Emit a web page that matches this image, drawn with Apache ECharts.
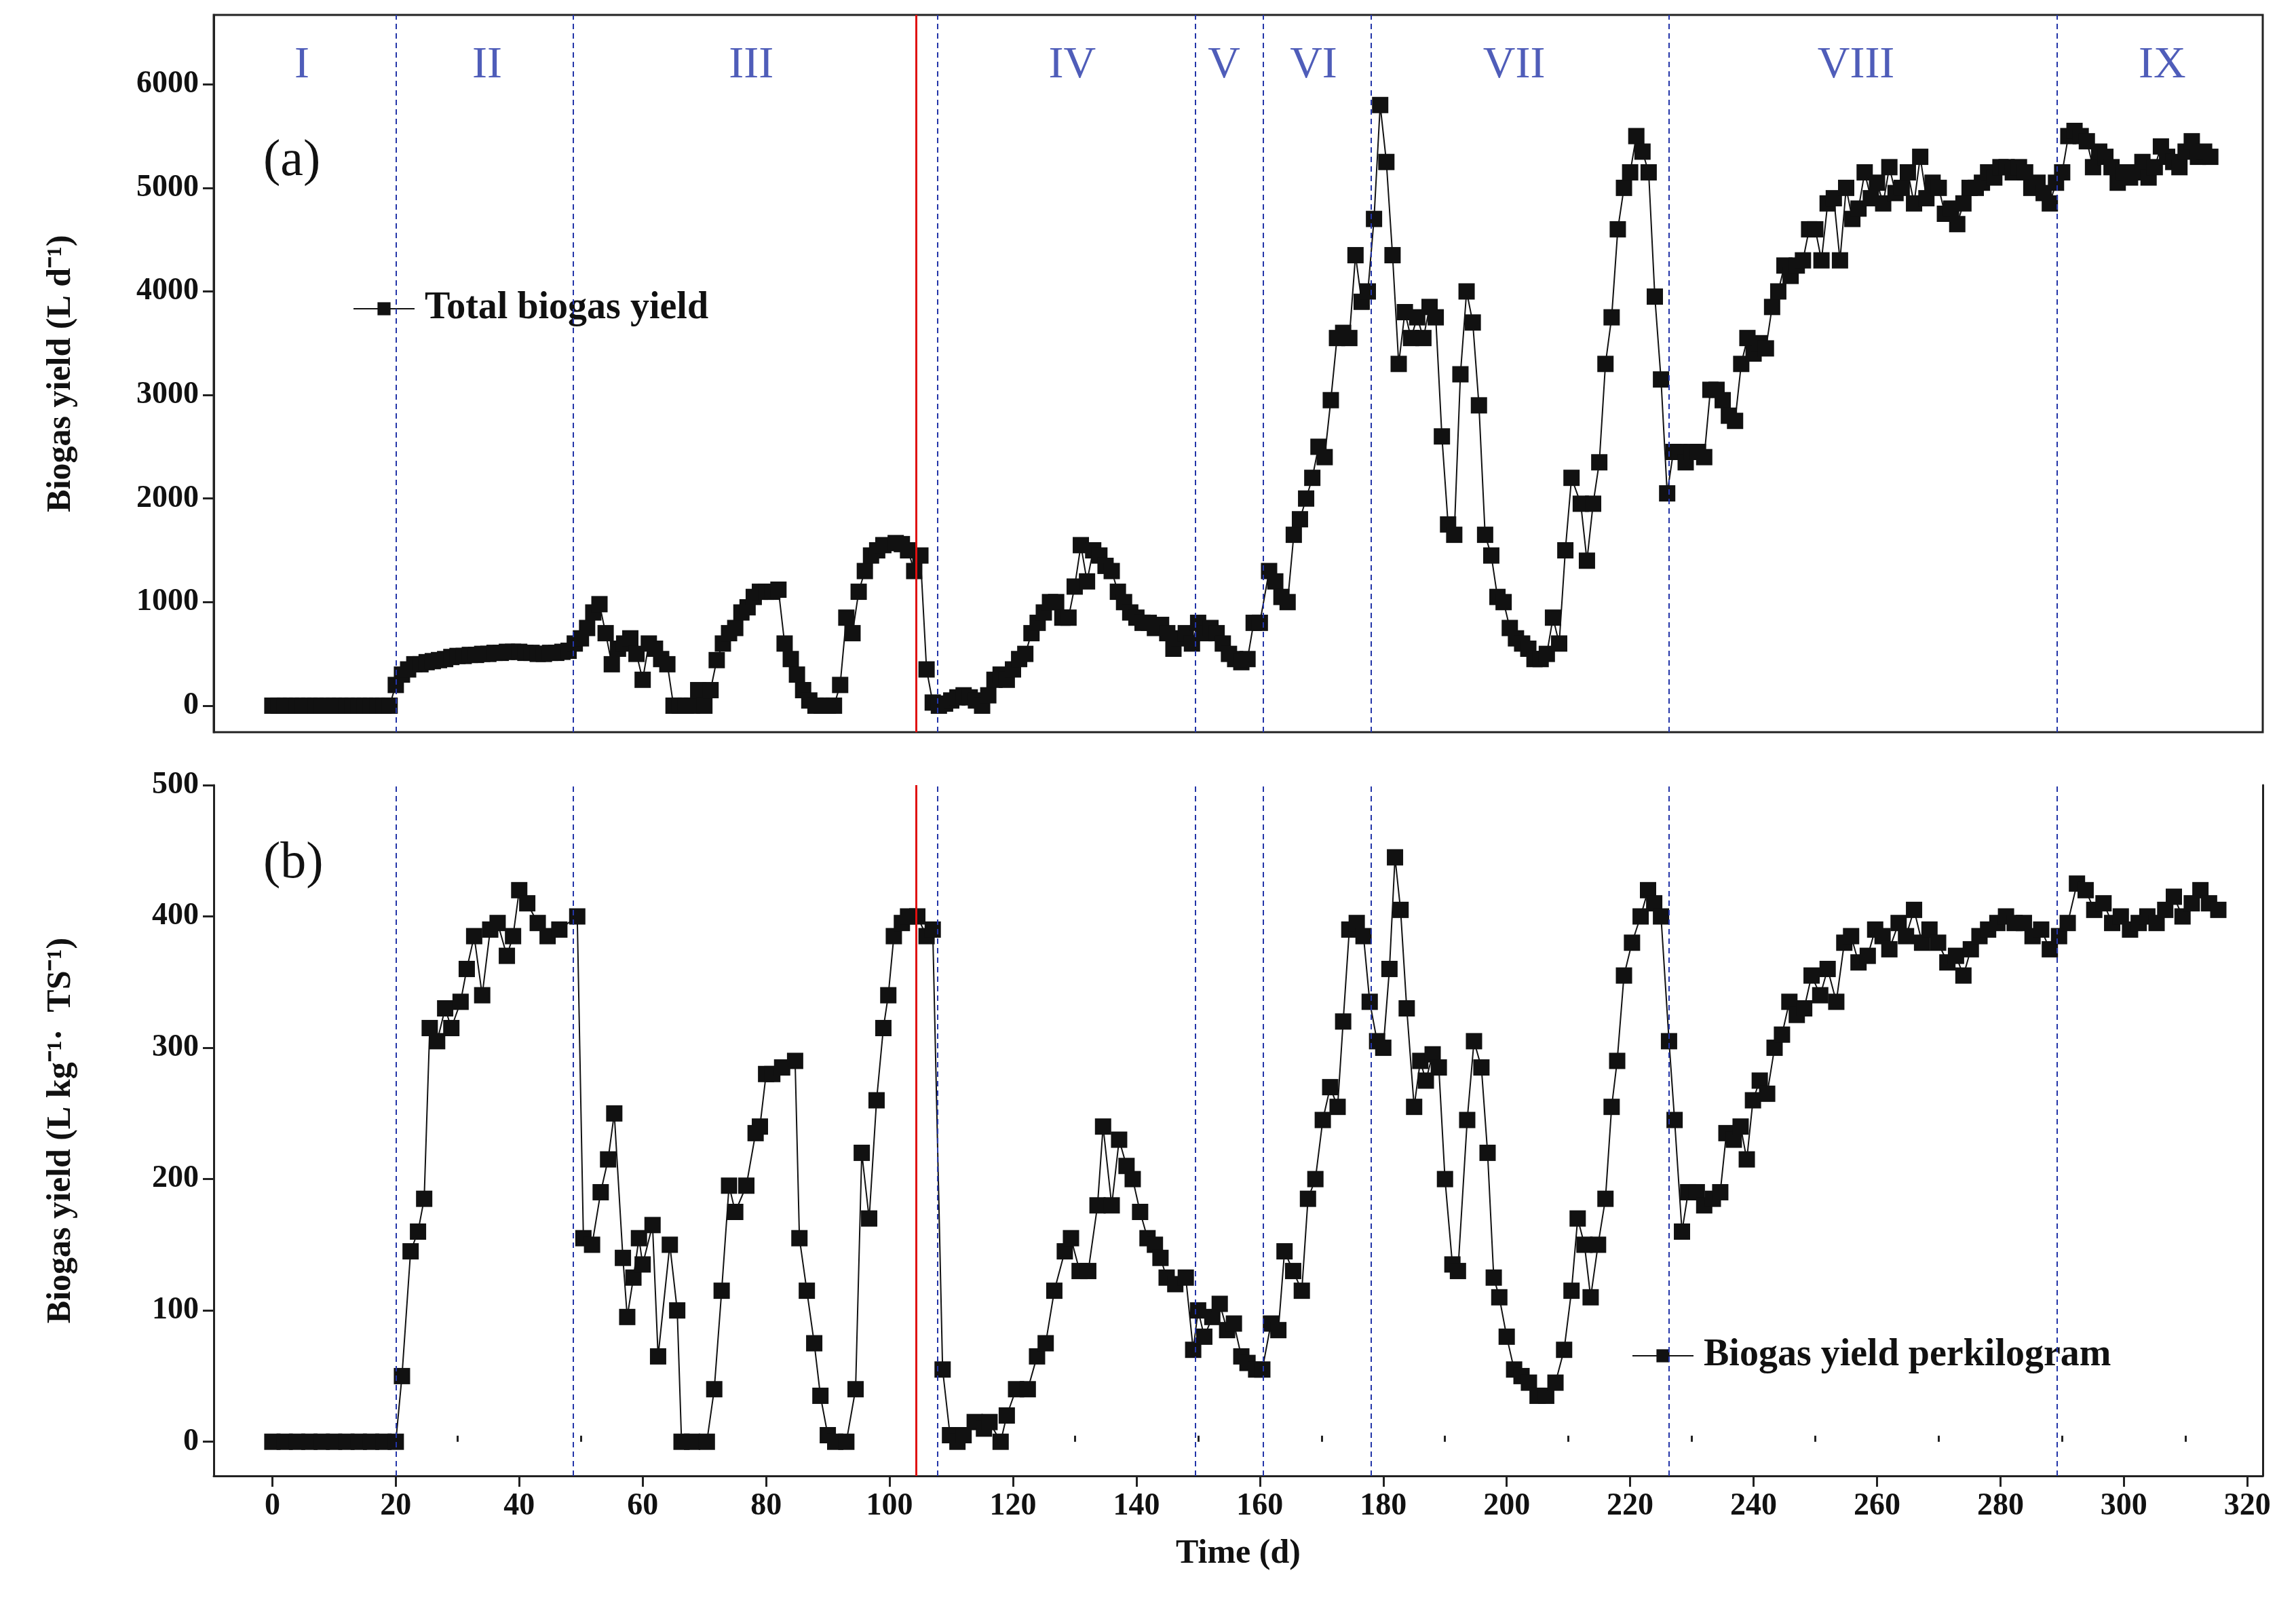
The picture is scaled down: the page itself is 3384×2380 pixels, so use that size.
<!DOCTYPE html>
<html>
<head>
<meta charset="utf-8">
<script src="https://cdn.jsdelivr.net/npm/echarts@6/dist/echarts.min.js"></script>
<style>html,body{margin:0;background:#fff}#main{width:3384px;height:2380px}</style>
</head>
<body>
<div id="main"></div>
<script>
// 阶段标记
const phaseNames = ['I', 'II', 'III', 'IV', 'V', 'VI', 'VII', 'VIII', 'IX'];
const phaseCenters = [4.8, 34.8, 77.6, 129.6, 154.2, 168.7, 201.2, 256.6, 306.2];
const phaseBounds = [20, 48.7, 107.8, 149.5, 160.5, 178, 226.3, 289.2];
const redLine = 104.3;
const xTicks = [0, 20, 40, 60, 80, 100, 120, 140, 160, 180, 200, 220, 240, 260, 280, 300, 320];
const xMinorTicks = [-10, 10, 30, 50, 70, 90, 110, 130, 150, 170, 190, 210, 230, 250, 270, 290, 310];
const yTicksA = [0, 1000, 2000, 3000, 4000, 5000, 6000];
const yTicksB = [0, 100, 200, 300, 400, 500];

// (a) 总产气量，按段给出：起始天 + 逐日数值
const aSeg1Start = 0;
const aSeg1 = [0,0,0,0,0,0,0,0,0,0,0,0,0,0,0,0,0,0,0,0,
  200,300,350,400,400,420,430,440,450,470,480,480,490,490,500,500,510,510,520,520,
  520,510,510,500,500,510,510,520,530,600,650,750,900,980,700,400,550,600,650,500,
  250,600,550,450,400,0,0,0,0,150,0,150,440,600,700,750,900,950,1050,1100,
  1100,1100,1120,600,450,300,150,50,0,0,0,0,200,850,700,1100,1300,1450,1500,1550];
const aSeg2Start = 101;
const aSeg2 = [1570,1560,1500,1300,1450,350,30,0,20,50,80,100,80,50,0,100,250,300,250,350,
  450,500,700,800,900,1000,1000,850,850,1150,1550,1200,1500,1450,1350,1300,1100,1000,900,850,
  800,800,750,780,700,550,650,700,600,800,700,750,700,600,500,450,420,450,800,800];
const aSeg3Start = 161.5;
const aSeg3 = [1300,1200,1050,1000,1650,1800,2000,2200,2500,2400,2950,3550,3600,3550,4350,3900,4000,4700,5800,5250,
  4350,3300,3800,3550,3750,3550,3850,3750,2600,1750,1650,3200,4000,3700,2900,1650,1450,1050,1000,750,
  650,600,550,450,450,500,850,600,1500,2200];
const aSeg4Start = 212;
const aSeg4 = [1950,1400,1950,2350,3300,3750,4600,5000,5150,5500,5350,5150,3950,3150,2050,2450,2450,2350,2450,2450,
  2400,3050,3050,2950,2800,2750,3300,3550,3400,3500,3450,3850,4000,4250,4150,4250,4300,4600,4600,4300,
  4850,4900,4300,5000,4700,4800,5150,4900,5050,4850];
const aSeg5Start = 262;
const aSeg5 = [5200,4950,5000,5150,4850,5300,4900,5050,5000,4750,4800,4650,4850,5000,5000,5050,5150,5100,5200,5200,
  5150,5200,5150,5000,5050,4950,4850,5050,5150,5500,5550,5500,5450,5200,5350,5300,5200,5050,5150,5100,
  5150,5250,5100,5200,5400,5300,5250,5200,5350,5450,5300,5350,5300];

// (b) 单位产气量
const bDays = [0,2,4,6,8,10,12,14,16,18,20,21,22.4,23.6,24.6,25.5,26.7,28,29,30.5,31.5,32.7,34,35.3,36.5,38,39,40,41.3,43,44.6,46.5,49.4,
  50.4,51.8,53.2,54.4,55.4,56.8,57.5,58.5,59.4,60,61.6,62.5,64.4,65.6,66.3,68,70.4,71.6,72.8,74,75,76.8,78.3,79,80,81,82.6,84.7,
  85.4,86.6,87.8,88.8,90,91.2,93,94.5,95.5,96.7,97.9,99,99.8,100.7,102,103,104.5,106,107,108.6,109.8,111,112,113.8,115.3,116.2,
  118,119,120.5,122.4,123.9,125.3,126.7,128.4,129.4,130.8,132.2,133.7,134.6,136,137.2,138.4,139.4,140.6,141.8,143,143.9,144.9,146.3,
  148,149.2,150,151,152.3,153.5,154.7,155.8,157,158,159.4,160.4,161.8,163,164,165.4,166.8,167.8,169,170.2,171.4,172.6,173.5,174.5,
  175.7,176.8,177.8,179,180,181,181.9,182.8,183.8,185,186,186.9,188,189,190,191.2,192.1,193.6,194.7,195.9,196.9,197.9,198.8,200,
  201.2,202.4,203.6,205,206.4,207.9,209.3,210.5,211.5,212.6,213.6,214.8,216,217,217.9,219,220.3,221.7,222.9,223.9,225,226.3,227.2,
  228.4,229.4,230.8,232,233.4,234.6,235.6,236.8,237.9,238.9,239.9,241,242.2,243.4,244.6,245.8,247,248.2,249.4,250.8,252,253.4,254.7,
  255.8,257,258.5,259.7,260.9,262,263.5,264.7,266,267.3,268.5,269.9,271.4,272.8,274,275.2,276.6,278,279.5,280.9,282.3,283.8,285.2,
  286.6,288,289.5,290.9,292.4,293.8,295.2,296.7,298.1,299.5,301,302.4,303.8,305.3,306.7,308.1,309.5,311,312.4,313.8,315.3];
const bVals = [0,0,0,0,0,0,0,0,0,0,0,50,145,160,185,315,305,330,315,335,360,385,340,390,395,370,385,420,410,395,385,390,400,
  155,150,190,215,250,140,95,125,155,135,165,65,150,100,0,0,0,40,115,195,175,195,235,240,280,280,285,290,
  155,115,75,35,5,0,0,40,220,170,260,315,340,385,395,400,400,385,390,55,5,0,5,15,10,15,
  0,20,40,40,65,75,115,145,155,130,130,180,240,180,230,210,200,175,155,150,140,125,120,
  125,70,100,80,95,105,85,90,65,60,55,55,90,85,145,130,115,185,200,245,270,255,320,390,
  395,385,335,305,300,360,445,405,330,255,290,275,295,285,200,135,130,245,305,285,220,125,110,80,
  55,50,45,35,35,45,70,115,170,150,110,150,185,255,290,355,380,400,420,410,400,305,245,
  160,190,190,180,185,190,235,230,240,215,260,275,265,300,310,335,325,330,355,340,360,335,380,
  385,365,370,390,385,375,395,385,405,380,390,380,365,370,355,375,385,390,395,400,395,395,385,
  390,375,385,395,425,420,405,410,395,400,390,395,400,395,405,415,400,410,420,410,405];

function seg(start, vals) {
  return vals.map((v, i) => [start + i, v]);
}
const aData = [].concat(seg(aSeg1Start, aSeg1), seg(aSeg2Start, aSeg2), seg(aSeg3Start, aSeg3),
  seg(aSeg4Start, aSeg4), seg(aSeg5Start, aSeg5));
const bData = bDays.map((d, i) => [d, bVals[i]]);

const chart = echarts.init(document.getElementById('main'));
const font = 'Liberation Serif';
const blue = '#2335a8';

function vLines() {
  const lines = phaseBounds.map(x => ({ xAxis: x }));
  lines.push({ xAxis: redLine, lineStyle: { color: '#e01010', type: 'solid', width: 3 } });
  return {
    silent: true, symbol: 'none', label: { show: false },
    lineStyle: { color: blue, type: [8, 6], width: 2 },
    data: lines
  };
}

const xBase = { type: 'value', min: -9.5, max: 322.5, splitLine: { show: false } };
const tickLabel = { fontFamily: font, fontWeight: 'bold', fontSize: 46, color: '#111', formatter: v => String(v) };
const axisName = { fontFamily: font, fontWeight: 'bold', fontSize: 50, color: '#111' };

chart.setOption({
  backgroundColor: '#fff',
  animation: false,
  grid: [
    { left: 315, right: 49, top: 22, height: 1057, show: true, borderColor: '#222', borderWidth: 3 },
    { left: 315, right: 49, top: 1157, height: 1018 }
  ],
  xAxis: [
    Object.assign({}, xBase, { gridIndex: 0, axisLine: { show: false }, axisTick: { show: false }, axisLabel: { show: false } }),
    Object.assign({}, xBase, {
      gridIndex: 1, name: 'Time (d)', nameLocation: 'middle', nameGap: 90, nameTextStyle: axisName,
      axisLine: { onZero: false, lineStyle: { color: '#222', width: 3 } },
      axisTick: { customValues: xTicks, length: 16, lineStyle: { width: 3, color: '#222' } },
      axisLabel: Object.assign({ customValues: xTicks, margin: 22 }, tickLabel)
    }),
    Object.assign({}, xBase, {
      gridIndex: 1, axisLine: { show: false }, axisLabel: { show: false },
      axisTick: { customValues: xMinorTicks, length: 9, lineStyle: { width: 3, color: '#222' } }
    })
  ],
  yAxis: [
    {
      type: 'value', gridIndex: 0, min: -256, max: 6670, splitLine: { show: false },
      name: 'Biogas yield (L d⁻¹)', nameLocation: 'middle', nameGap: 200, nameTextStyle: axisName,
      axisLine: { onZero: false, lineStyle: { color: '#222', width: 3 } },
      axisTick: { customValues: yTicksA, length: 16, lineStyle: { width: 3, color: '#222' } },
      axisLabel: Object.assign({ customValues: yTicksA, margin: 22 }, tickLabel)
    },
    {
      type: 'value', gridIndex: 1, min: -26, max: 500, splitLine: { show: false },
      name: 'Biogas yield (L kg⁻¹·  TS⁻¹)', nameLocation: 'middle', nameGap: 200, nameTextStyle: axisName,
      axisLine: { onZero: false, lineStyle: { color: '#222', width: 3 } },
      axisTick: { customValues: yTicksB, length: 16, lineStyle: { width: 3, color: '#222' } },
      axisLabel: Object.assign({ customValues: yTicksB, margin: 22 }, tickLabel)
    },
    {
      type: 'value', gridIndex: 1, position: 'right', min: -26, max: 500, splitLine: { show: false },
      axisLine: { show: true, onZero: false, lineStyle: { color: '#222', width: 3 } },
      axisTick: { show: false }, axisLabel: { show: false }
    }
  ],
  legend: [
    {
      data: ['Total biogas yield'], left: 515, top: 422, itemWidth: 90, itemHeight: 24, itemGap: 20,
      textStyle: { fontFamily: font, fontWeight: 'bold', fontSize: 56, color: '#111', padding: [0, 0, 0, 10] }
    },
    {
      data: ['Biogas yield perkilogram'], left: 2400, top: 1965, itemWidth: 90, itemHeight: 24,
      textStyle: { fontFamily: font, fontWeight: 'bold', fontSize: 56, color: '#111', padding: [0, 0, 0, 10] }
    }
  ],
  graphic: [
    { type: 'text', left: 388, top: 200, style: { text: '(a)', font: '76px "Liberation Serif"', fill: '#111' } },
    { type: 'text', left: 388, top: 1235, style: { text: '(b)', font: '76px "Liberation Serif"', fill: '#111' } }
  ],
  series: [
    {
      name: 'Total biogas yield', type: 'line', xAxisIndex: 0, yAxisIndex: 0, data: aData,
      symbol: 'rect', symbolSize: 24, itemStyle: { color: '#111' },
      lineStyle: { color: '#111', width: 2 }, markLine: vLines()
    },
    {
      name: 'Biogas yield perkilogram', type: 'line', xAxisIndex: 1, yAxisIndex: 1, data: bData,
      symbol: 'rect', symbolSize: 24, itemStyle: { color: '#111' },
      lineStyle: { color: '#111', width: 2 }, markLine: vLines()
    },
    {
      name: 'phases', type: 'scatter', xAxisIndex: 0, yAxisIndex: 0, symbolSize: 0, silent: true,
      data: phaseCenters.map((x, i) => ({ value: [x, 6180], name: phaseNames[i] })),
      label: { show: true, position: 'inside', formatter: p => p.name, fontFamily: font, fontSize: 66, color: blue }
    }
  ]
});
</script>
</body>
</html>
